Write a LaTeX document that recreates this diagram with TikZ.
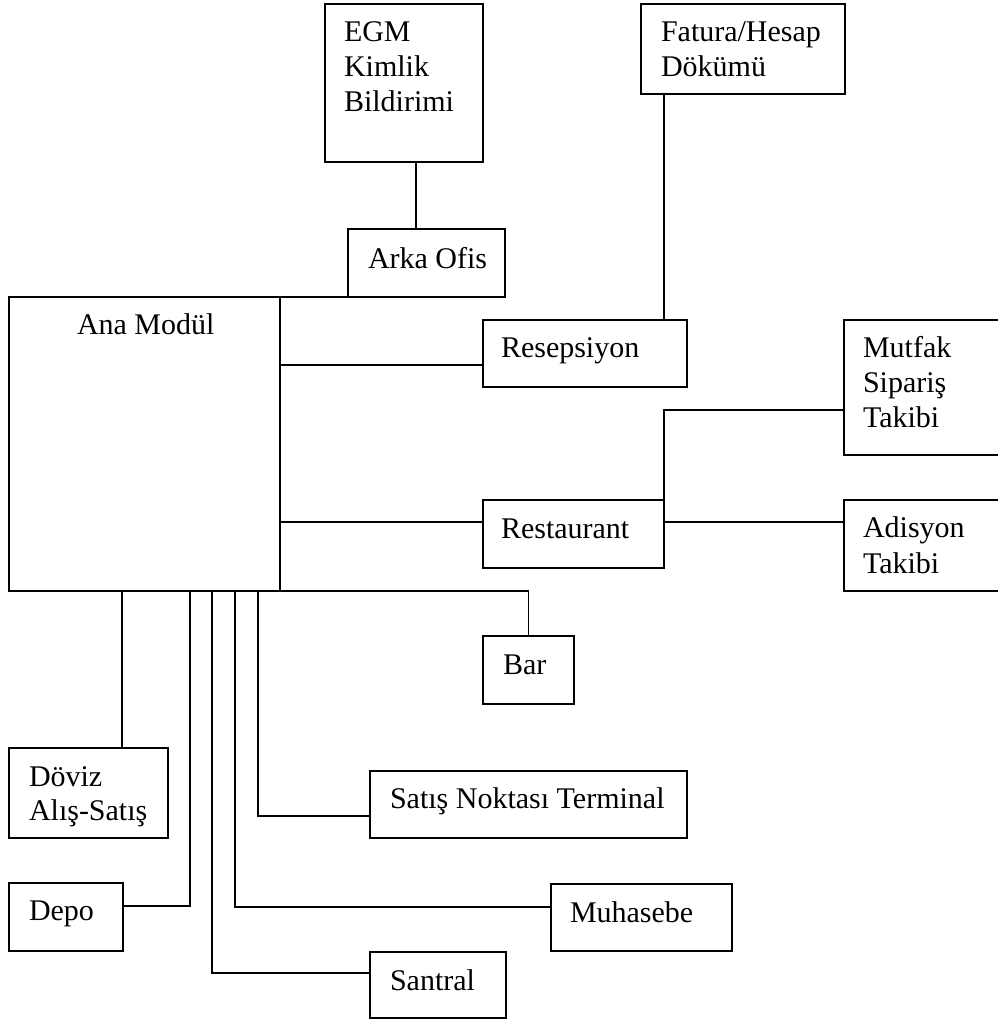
\documentclass[tikz,border=0pt]{standalone}
\usepackage{fontspec}
\setmainfont{Liberation Serif}
\begin{document}
\begin{tikzpicture}[x=1pt,y=-1pt,
  box/.style={draw, line width=1.9pt, inner sep=0pt, outer sep=0pt, anchor=north west},
  lbl/.style={inner sep=0pt, outer sep=0pt, anchor=base west, font=\fontsize{30}{35}\selectfont},
  wire/.style={line width=1.9pt}]
\useasboundingbox (0,0) rectangle (998,1021);
\begin{scope}
\clip (0,0) rectangle (998,1021);

% boxes
\node[box, minimum width=158pt, minimum height=158pt] (egm)    at (325,4)   {};
\node[box, minimum width=204pt, minimum height=90pt]  (fatura) at (641,4)   {};
\node[box, minimum width=157pt, minimum height=68pt]  (arka)   at (348,229) {};
\node[box, minimum width=271pt, minimum height=294pt] (ana)    at (9,297)   {};
\node[box, minimum width=204pt, minimum height=67pt]  (resep)  at (483,320) {};
\node[box, minimum width=181pt, minimum height=68pt]  (rest)   at (483,500) {};
\node[box, minimum width=180pt, minimum height=135pt] (mutfak) at (844,320) {};
\node[box, minimum width=180pt, minimum height=91pt]  (adis)   at (844,500) {};
\node[box, minimum width=91pt,  minimum height=68pt]  (bar)    at (483,636) {};
\node[box, minimum width=159pt, minimum height=90pt]  (doviz)  at (9,748)   {};
\node[box, minimum width=114pt, minimum height=68pt]  (depo)   at (9,883)   {};
\node[box, minimum width=317pt, minimum height=67pt]  (satis)  at (370,771) {};
\node[box, minimum width=181pt, minimum height=67pt]  (muh)    at (551,884) {};
\node[box, minimum width=136pt, minimum height=66pt]  (santral) at (370,952) {};

% labels
\node[lbl] (egmA) at (344,41)  {EGM};
\node[lbl] (egmB) at (344,76)  {Kimlik};
\node[lbl] (egmC) at (344,111) {Bildirimi};
\node[lbl] (fatA) at (661,41)  {Fatura/Hesap};
\node[lbl] (fatB) at (661,76)  {Dökümü};
\node[lbl] (arkaT) at (368,268) {Arka Ofis};
\node[lbl] (anaT) at (77,334)  {Ana Modül};
\node[lbl] (resT) at (501,357) {Resepsiyon};
\node[lbl] (restT) at (501,538) {Restaurant};
\node[lbl] (mutA) at (863,357) {Mutfak};
\node[lbl] (mutB) at (863,392) {Sipariş};
\node[lbl] (mutC) at (863,427) {Takibi};
\node[lbl] (adA) at (863,537) {Adisyon};
\node[lbl] (adB) at (863,573) {Takibi};
\node[lbl] (barT) at (503,674) {Bar};
\node[lbl] (dovA) at (29,786) {Döviz};
\node[lbl] (dovB) at (29,820) {Alış-Satış};
\node[lbl] (depoT) at (29,920) {Depo};
\node[lbl] (satT) at (390,808) {Satış Noktası Terminal};
\node[lbl] (muhT) at (570,922) {Muhasebe};
\node[lbl] (sanT) at (390,990) {Santral};

% routing columns and rows of the connectors
\coordinate (cEgm) at (416,0);
\coordinate (cFat) at (664,0);
\coordinate (cDov) at (122,0);
\coordinate (cDepo) at (190,0);
\coordinate (cSan) at (212,0);
\coordinate (cMuh) at (235,0);
\coordinate (cSat) at (258,0);
\coordinate (rRes) at (0,365);
\coordinate (rRest) at (0,522);
\coordinate (rMut) at (0,410);
\coordinate (rDepo) at (0,906);
\coordinate (rMuh) at (0,907);
\coordinate (rSat) at (0,816);
\coordinate (rSan) at (0,973);

% connectors
\draw[wire] (egm.south -| cEgm) -- (arka.north -| cEgm);
\draw[wire] (fatura.south -| cFat) -- (resep.north -| cFat);
\draw[wire] (ana.north east) -- (arka.south west);
\draw[wire] (ana.east |- rRes) -- (resep.west |- rRes);
\draw[wire] (ana.east |- rRest) -- (rest.west |- rRest);
\draw[wire] (rest.north east) -- (rest.north east |- rMut) -- (mutfak.west |- rMut);
\draw[wire] (rest.east |- rRest) -- (adis.west |- rRest);
\draw[wire] (ana.south east) -- (bar.north |- ana.south east) -- (bar.north);
\draw[wire] (ana.south -| cDov) -- (doviz.north -| cDov);
\draw[wire] (ana.south -| cDepo) -- (cDepo |- rDepo) -- (depo.east |- rDepo);
\draw[wire] (ana.south -| cSan) -- (cSan |- rSan) -- (santral.west |- rSan);
\draw[wire] (ana.south -| cMuh) -- (cMuh |- rMuh) -- (muh.west |- rMuh);
\draw[wire] (ana.south -| cSat) -- (cSat |- rSat) -- (satis.west |- rSat);
\end{scope}
\end{tikzpicture}
\end{document}
